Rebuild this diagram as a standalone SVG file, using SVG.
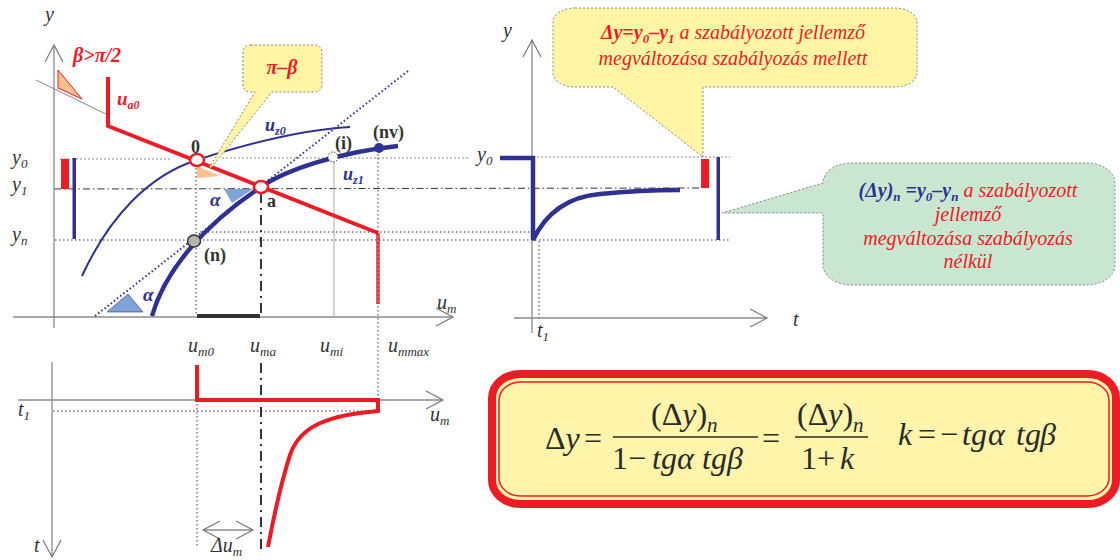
<svg xmlns="http://www.w3.org/2000/svg" width="1120" height="560" viewBox="0 0 1120 560" font-family="'Liberation Serif', serif">
<defs>
<marker id="chev" markerUnits="userSpaceOnUse" markerWidth="20" markerHeight="20" refX="17" refY="9" orient="auto-start-reverse" overflow="visible"><path d="M0,0 L17,9 L0,18" fill="none" stroke="#777" stroke-width="1.2"/></marker>
<style>
.ax{stroke:#8a8a8a;stroke-width:1.3;fill:none}
.dot{stroke:#333;stroke-width:1;stroke-dasharray:1.5 2.5;fill:none}
.dotg{stroke:#888;stroke-width:1;stroke-dasharray:2 2;fill:none}
.dd{stroke:#333;stroke-width:1;stroke-dasharray:7 3 1.5 3;fill:none}
.ddh{stroke:#333;stroke-width:2;stroke-dasharray:10 5 2 5;fill:none}
.red{stroke:#ED1C24;fill:none;stroke-linejoin:miter}
.blue{stroke:#2E3192;fill:none}
.lbl{font-style:italic;fill:#333;font-size:20px}
.sub{font-size:13px}
.pt{font-weight:bold;fill:#333;font-size:18px}
.rbi{font-weight:bold;font-style:italic;fill:#ED1C24}
.bbi{font-weight:bold;font-style:italic;fill:#2E3192}
.ri{font-style:italic;fill:#ED1C24}
.co{stroke:#777;stroke-width:0.9;stroke-dasharray:2 2}
.f{font-size:32px;fill:#2a2a2a}
.i{font-style:italic}
</style>
</defs>

<g id="guides">
<line class="dotg" x1="60" y1="159" x2="172" y2="159"/>
<line class="dotg" x1="222" y1="158" x2="470" y2="158"/>
<line class="dotg" x1="533" y1="157" x2="730" y2="157"/>
<line class="dd" x1="54" y1="189" x2="700" y2="188"/>
<line class="dot" x1="55" y1="240" x2="730" y2="240"/>
<line class="dot" x1="200" y1="232" x2="533" y2="232"/>
<line class="dot" x1="196" y1="168" x2="196" y2="316"/>
<line class="dot" x1="197" y1="400" x2="197" y2="546"/>
<line class="ddh" x1="261" y1="193" x2="261" y2="318"/>
<line class="ddh" x1="261" y1="363" x2="261" y2="553"/>
<line x1="334" y1="160" x2="334" y2="316" stroke="#aaa" stroke-width="1"/>
<line class="dot" x1="539" y1="241" x2="539" y2="318"/>
<line x1="36" y1="80" x2="108" y2="115" stroke="#777" stroke-width="0.9"/>
<line class="dot" x1="53" y1="411" x2="378" y2="411"/>
</g>

<g id="axes">
<line class="ax" x1="54" y1="328" x2="54" y2="45" marker-end="url(#chev)"/>
<line class="ax" x1="13" y1="317" x2="453" y2="317" marker-end="url(#chev)"/>
<line class="ax" x1="18" y1="400" x2="443" y2="400" marker-end="url(#chev)"/>
<line class="ax" x1="52" y1="362" x2="52" y2="557" marker-end="url(#chev)"/>
<line class="ax" x1="532" y1="333" x2="532" y2="40" marker-end="url(#chev)"/>
<line class="ax" x1="514" y1="318" x2="767" y2="318" marker-end="url(#chev)"/>
<line class="ax" x1="203" y1="530" x2="253" y2="530" marker-start="url(#chev)" marker-end="url(#chev)"/>
</g>

<g id="curves">
<path class="blue" stroke-width="2" d="M82,276 C110,215 150,175 197,160 C240,146 300,130 350,127"/>
<path d="M95,316 L408,71" stroke="#2E3192" stroke-width="2" stroke-dasharray="1.5 2.5" fill="none"/>
<path class="blue" stroke-width="4.5" d="M152,316 C165,270 205,224 261,187 C285,170 340,152 398,146"/>
<path class="red" stroke-width="4" d="M108,77 V126 L378,233"/>
<line x1="378" y1="233" x2="378" y2="304" stroke="#ED1C24" stroke-opacity="0.75" stroke-width="4"/>
<line x1="197" y1="316" x2="260" y2="316" stroke="#333" stroke-width="4"/>
<line class="dot" x1="378" y1="150" x2="378" y2="410"/>
<path class="red" stroke-width="4" d="M197,365 V400 H378 V411 C330,415 300,425 290,455 C282,480 275,510 268,547"/>
<path class="blue" stroke-width="4.5" d="M500,158 H533 V240 C545,215 565,197 600,194 C630,191 660,190 680,190"/>
<rect x="61" y="159" width="8" height="30" fill="#ED1C24"/>
<rect x="72.5" y="158" width="3.5" height="81" fill="#2E3192"/>
<rect x="701" y="159" width="8" height="29" fill="#ED1C24"/>
<rect x="716.5" y="157" width="3.5" height="83" fill="#2E3192"/>
<polygon points="58,70 58,88 82,99" fill="#FBC08F" stroke="#ED1C24" stroke-width="1"/>
<polygon points="197,166 197,178 220,176" fill="#FBC08F"/>
<polygon points="224,189 253,189 232,203" fill="#7FA3D6"/>
<polygon points="107,312 128,294 143,312" fill="#7FA3D6" stroke="#2E3192" stroke-width="0.6"/>
</g>

<g id="callout-pi-beta">
<path class="co" fill="#FFF5A5" d="M251,45 H314 Q322,45 322,53 V84 Q322,92 314,92 H272 L212,167 L209,168 L255,92 H251 Q243,92 243,84 V53 Q243,45 251,45 Z"/>
<text class="rbi" x="282" y="74" font-size="20" text-anchor="middle">π–β</text>
</g>

<g id="point-0">
<ellipse cx="197" cy="160" rx="7" ry="6" fill="#fff" stroke="#ED1C24" stroke-width="2.5"/>
<text class="pt" x="191" y="153">0</text>
</g>
<g id="point-a">
<ellipse cx="261" cy="187" rx="7" ry="6" fill="#fff" stroke="#ED1C24" stroke-width="2.5"/>
<text class="pt" x="267" y="207">a</text>
</g>
<g id="point-n">
<ellipse cx="194" cy="241" rx="6.5" ry="6" fill="#b8b2ad" stroke="#333" stroke-width="1.5"/>
<text class="pt" x="204" y="261">(n)</text>
</g>
<g id="point-i">
<circle cx="333" cy="157" r="5" fill="#fff" stroke="#333" stroke-width="1" stroke-dasharray="1.5 1.5"/>
<text class="pt" x="335" y="149">(i)</text>
</g>
<g id="point-nv">
<circle cx="379" cy="148" r="5" fill="#2E3192"/>
<text class="pt" x="373" y="138">(nv)</text>
</g>

<g id="labels">
<text class="lbl" x="45" y="21">y</text>
<text class="rbi" x="73" y="62" font-size="20">β&gt;π/2</text>
<text class="rbi" x="117" y="105" font-size="19">u<tspan font-size="12" dy="4">a0</tspan></text>
<text class="bbi" x="265" y="131" font-size="18">u<tspan font-size="12" dy="4">z0</tspan></text>
<text class="bbi" x="343" y="180" font-size="18">u<tspan font-size="12" dy="4">z1</tspan></text>
<text class="bbi" x="210" y="206" font-size="19">α</text>
<text class="bbi" x="143" y="301" font-size="19">α</text>
<text class="lbl" x="12" y="164">y<tspan class="sub" dy="4">0</tspan></text>
<text class="lbl" x="12" y="191">y<tspan class="sub" dy="4">1</tspan></text>
<text class="lbl" x="12" y="241">y<tspan class="sub" dy="4">n</tspan></text>
<text class="lbl" x="437" y="309">u<tspan class="sub" dy="4">m</tspan></text>
<text class="lbl" x="188" y="352">u<tspan class="sub" dy="4">m0</tspan></text>
<text class="lbl" x="250" y="352">u<tspan class="sub" dy="4">ma</tspan></text>
<text class="lbl" x="320" y="352">u<tspan class="sub" dy="4">mi</tspan></text>
<text class="lbl" x="388" y="352">u<tspan class="sub" dy="4">mmax</tspan></text>
<text class="lbl" x="18" y="416">t<tspan class="sub" dy="4">1</tspan></text>
<text class="lbl" x="430" y="421">u<tspan class="sub" dy="4">m</tspan></text>
<text class="lbl" x="34" y="552">t</text>
<text class="lbl" x="211" y="552">Δu<tspan class="sub" dy="4">m</tspan></text>
<text class="lbl" x="503" y="37">y</text>
<text class="lbl" x="477" y="161">y<tspan class="sub" dy="4">0</tspan></text>
<text class="lbl" x="537" y="337">t<tspan class="sub" dy="4">1</tspan></text>
<text class="lbl" x="793" y="326">t</text>
</g>

<g id="callout-dy">
<path class="co" fill="#FFF5A5" d="M575,8 H895 A22,14 0 0 1 917,22 V73 A22,14 0 0 1 895,87 H703 V157 L613,87 H575 A22,14 0 0 1 553,73 V22 A22,14 0 0 1 575,8 Z"/>
<text x="733" y="39" font-size="20" text-anchor="middle" class="ri"><tspan font-weight="bold">Δy=y<tspan font-size="13" dy="4">0</tspan><tspan dy="-4">–y</tspan><tspan font-size="13" dy="4">1</tspan></tspan><tspan dy="-4"> a szabályozott jellemző</tspan></text>
<text x="733" y="65" font-size="20" text-anchor="middle" class="ri">megváltozása szabályozás mellett</text>
</g>

<g id="callout-dyn">
<path class="co" fill="#C9E6D0" d="M851,163 H1087 A28,20 0 0 1 1115,183 V265 A28,20 0 0 1 1087,285 H851 A28,20 0 0 1 823,265 V213 H722 L823,183 A28,20 0 0 1 851,163 Z"/>
<text x="968" y="197" font-size="20" text-anchor="middle"><tspan class="bbi">(Δy)<tspan font-size="13" dy="4">n</tspan><tspan dy="-4"> =y</tspan><tspan font-size="13" dy="4">0</tspan><tspan dy="-4">–y</tspan><tspan font-size="13" dy="4">n</tspan></tspan><tspan class="ri" dy="-4"> a szabályozott</tspan></text>
<text x="968" y="221" font-size="20" text-anchor="middle" class="ri">jellemző</text>
<text x="968" y="245" font-size="20" text-anchor="middle" class="ri">megváltozása szabályozás</text>
<text x="968" y="268" font-size="20" text-anchor="middle" class="ri">nélkül</text>
</g>

<g id="formula">
<rect x="492" y="374" width="624" height="130" rx="28" ry="24" fill="#FFF5AA" stroke="#ED1C24" stroke-width="8"/>
<rect x="499" y="382" width="610" height="114" rx="22" ry="18" fill="none" stroke="#ED1C24" stroke-width="1.5"/>
<text class="f" x="545" y="449">Δ<tspan class="i">y</tspan></text>
<text class="f" x="584" y="449">=</text>
<line x1="613" y1="437" x2="758" y2="437" stroke="#2a2a2a" stroke-width="1.5"/>
<text class="f" x="651" y="425">(Δ<tspan class="i">y</tspan>)<tspan class="i" font-size="21" dy="7">n</tspan></text>
<text class="f" y="469"><tspan x="612">1</tspan><tspan x="628">−</tspan><tspan class="i" x="652">tg</tspan><tspan class="i" x="677">α</tspan><tspan class="i" x="702">tg</tspan><tspan class="i" x="727">β</tspan></text>
<text class="f" x="762" y="449">=</text>
<line x1="795" y1="437" x2="868" y2="437" stroke="#2a2a2a" stroke-width="1.5"/>
<text class="f" x="797" y="425">(Δ<tspan class="i">y</tspan>)<tspan class="i" font-size="21" dy="7">n</tspan></text>
<text class="f" y="469"><tspan x="801">1</tspan><tspan x="817">+</tspan><tspan class="i" x="840">k</tspan></text>
<text class="f" y="445"><tspan class="i" x="898">k</tspan><tspan x="918">=</tspan><tspan x="940">−</tspan><tspan class="i" x="962">tg</tspan><tspan class="i" x="988">α</tspan><tspan class="i" x="1016">tg</tspan><tspan class="i" x="1040">β</tspan></text>
</g>
</svg>
